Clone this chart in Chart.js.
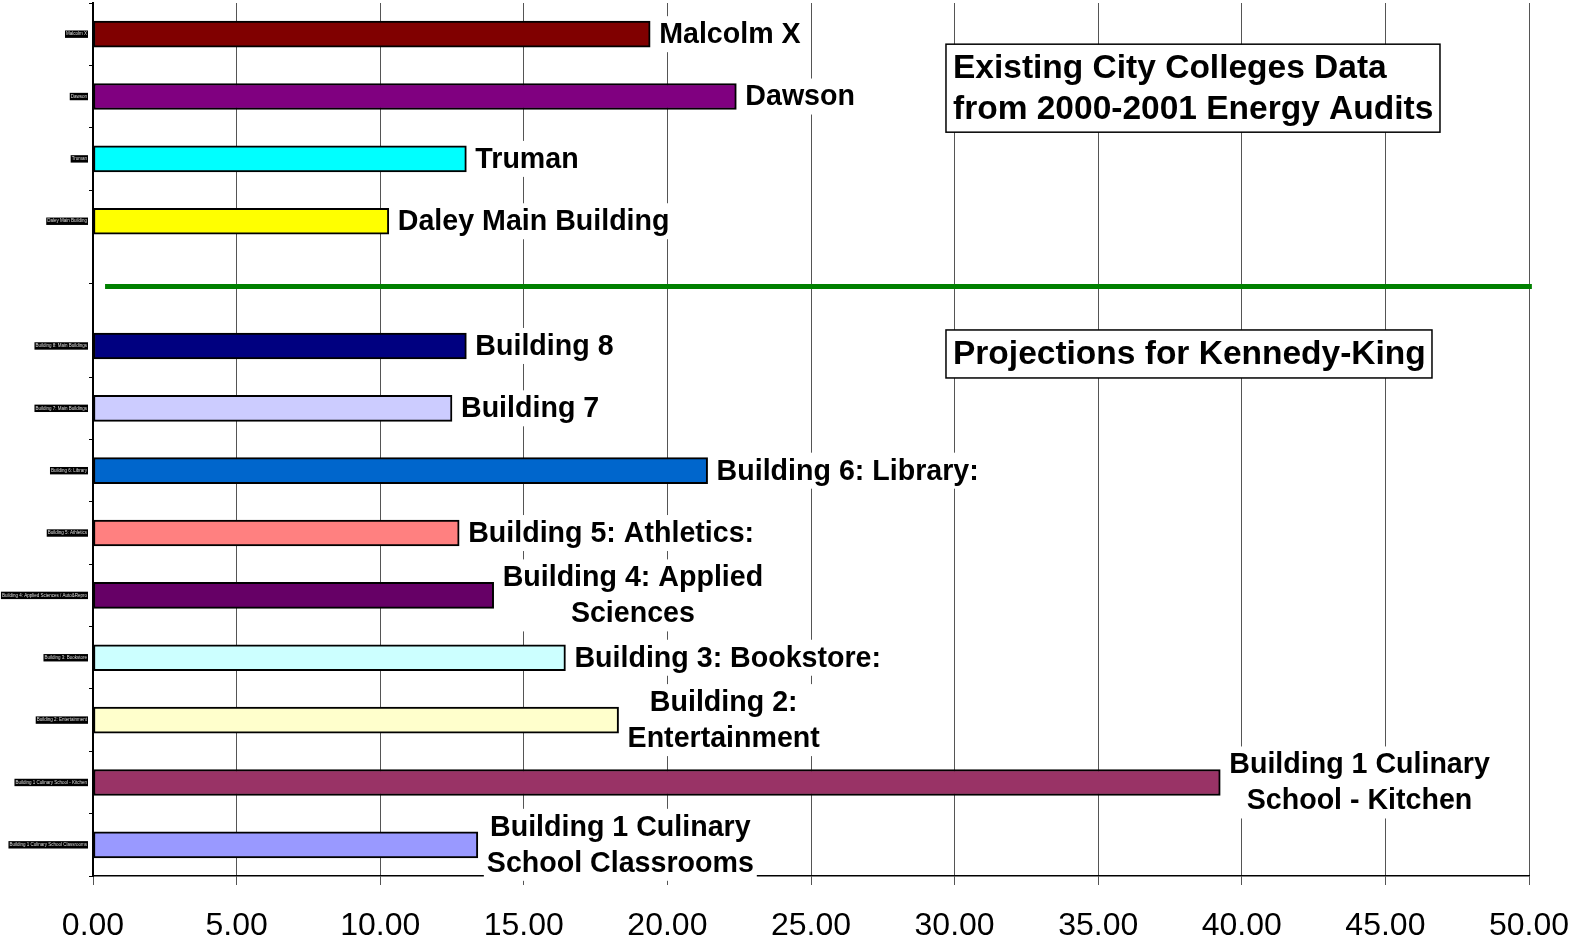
<!DOCTYPE html>
<html>
<head>
<meta charset="utf-8">
<script src="https://cdn.jsdelivr.net/npm/chart.js@4.4.0/dist/chart.umd.min.js"></script>
<style>
  html, body { margin: 0; padding: 0; background: #fff; }
  #wrap { width: 1572px; height: 942px; }
</style>
</head>
<body>
<div id="wrap"><canvas id="c"></canvas></div>
<script>
// Categorías (eje Y), de arriba a abajo; la vacía es el hueco de la línea verde
const buildings = [
    'Malcolm X',
    'Dawson',
    'Truman',
    'Daley Main Building',
    '',
    'Building 8: Main Buildings',
    'Building 7: Main Buildings',
    'Building 6: Library',
    'Building 5: Athletics',
    'Building 4: Applied Sciences / Auto&Repro',
    'Building 3: Bookstore',
    'Building 2: Entertainment',
    'Building 1 Culinary School - Kitchen',
    'Building 1 Culinary School Classrooms'
];

// Valores
const energyValues = [19.4, 22.4, 13.0, 10.3, null, 13.0, 12.5, 21.4, 12.75, 13.95, 16.45, 18.3, 39.25, 13.4];

// Etiquetas grandes junto a cada barra (líneas)
const barLabels = [
    ['Malcolm X'],
    ['Dawson'],
    ['Truman'],
    ['Daley Main Building'],
    [],
    ['Building 8'],
    ['Building 7'],
    ['Building 6: Library:'],
    ['Building 5: Athletics:'],
    ['Building 4: Applied', 'Sciences'],
    ['Building 3: Bookstore:'],
    ['Building 2:', 'Entertainment'],
    ['Building 1 Culinary', 'School - Kitchen'],
    ['Building 1 Culinary', 'School Classrooms']
];

const barColors = ['#800000', '#800080', '#00FFFF', '#FFFF00', '#fff', '#000080', '#CCCCFF',
    '#0066CC', '#FF8080', '#660066', '#CCFFFF', '#FFFFCC', '#993366', '#9999FF'];

const xTicks = [0, 5, 10, 15, 20, 25, 30, 35, 40, 45, 50];

const existingTitle = ['Existing City Colleges Data', 'from 2000-2001 Energy Audits'];
const projectionTitle = ['Projections for Kennedy-King'];

// Línea verde separadora y cuadros de texto
const overlayPlugin = {
    id: 'overlay',
    beforeDatasetsDraw(chart) {
        const { ctx, scales: { x, y } } = chart;
        const yy = y.getPixelForValue(4) + 3;
        ctx.save();
        ctx.strokeStyle = '#008000';
        ctx.lineWidth = 5;
        ctx.beginPath();
        ctx.moveTo(x.getPixelForValue(0.42), yy);
        ctx.lineTo(x.getPixelForValue(50.1), yy);
        ctx.stroke();
        ctx.restore();
    },
    afterDatasetsDraw(chart) {
        const { ctx, scales: { x, y } } = chart;
        const meta = chart.getDatasetMeta(0);
        ctx.save();
        ctx.font = 'bold 28.6px "Liberation Sans", Arial, sans-serif';
        ctx.textBaseline = 'middle';
        ctx.textAlign = 'center';
        const lh = 36;
        meta.data.forEach((bar, i) => {
            const lines = barLabels[i];
            if (!lines || !lines.length || energyValues[i] == null) return;
            const w = Math.max(...lines.map(l => ctx.measureText(l).width));
            const left = bar.x + 8;
            const top = bar.y - lines.length * lh / 2;
            ctx.fillStyle = '#fff';
            ctx.fillRect(left - 2, top, w + 6, lines.length * lh);
            ctx.fillStyle = '#000';
            lines.forEach((l, j) => {
                ctx.fillText(l, left + w / 2 + 1, top + lh * j + lh / 2 + 1);
            });
        });

        // Cuadros de títulos
        const drawBox = (lines, left, top, width, lineH) => {
            ctx.font = 'bold 33.5px "Liberation Sans", Arial, sans-serif';
            ctx.textAlign = 'left';
            const h = lines.length * lineH + 6;
            ctx.fillStyle = '#fff';
            ctx.fillRect(left, top, width, h);
            ctx.strokeStyle = '#000';
            ctx.lineWidth = 1.5;
            ctx.strokeRect(left, top, width, h);
            ctx.fillStyle = '#000';
            lines.forEach((l, j) => ctx.fillText(l, left + 7, top + 3 + lineH * j + lineH / 2 + 1));
        };
        drawBox(existingTitle, x.getPixelForValue(29.7), y.getPixelForValue(0) + 10, 494, 41);
        drawBox(projectionTitle, x.getPixelForValue(29.7), y.getPixelForValue(5) - 16, 486, 42);
        ctx.restore();
    }
};

new Chart(document.getElementById('c'), {
    type: 'bar',
    data: {
        labels: buildings,
        datasets: [{
            data: energyValues,
            backgroundColor: barColors,
            borderColor: '#000',
            borderWidth: 2,
            borderSkipped: false,
            barThickness: 26
        }]
    },
    options: {
        indexAxis: 'y',
        responsive: true,
        maintainAspectRatio: false,
        animation: false,
        layout: { padding: { top: 3, right: 43, left: 0, bottom: 0 } },
        plugins: {
            legend: { display: false },
            tooltip: { enabled: false }
        },
        scales: {
            x: {
                min: 0,
                max: 50,
                afterBuildTicks: scale => { scale.ticks = xTicks.map(v => ({ value: v })); },
                afterFit: scale => {
                    scale.height = 66;
                    scale.paddingLeft = 0;
                    scale.paddingRight = 0;
                },
                grid: {
                    color: '#555',
                    lineWidth: 1,
                    tickLength: 9,
                    drawTicks: true
                },
                border: { color: '#000', width: 1.5 },
                ticks: {
                    color: '#000',
                    padding: 22,
                    maxRotation: 0,
                    font: { family: '"Liberation Sans", Arial, sans-serif', size: 32 },
                    callback: v => Number(v).toFixed(2)
                }
            },
            y: {
                afterFit: scale => {
                    scale.width = 93;
                    scale.paddingTop = 0;
                    scale.paddingBottom = 0;
                },
                grid: {
                    offset: true,
                    drawOnChartArea: false,
                    tickLength: 4,
                    color: '#000'
                },
                border: { color: '#000', width: 2 },
                ticks: {
                    color: '#ddd',
                    padding: 2,
                    showLabelBackdrop: true,
                    backdropColor: '#000',
                    backdropPadding: 1,
                    font: { family: '"Liberation Sans", Arial, sans-serif', size: 4.5 },
                    callback: function (v) {
                        const l = this.getLabelForValue(v);
                        return l === '' ? null : l;
                    }
                }
            }
        }
    },
    plugins: [overlayPlugin]
});
</script>
</body>
</html>
